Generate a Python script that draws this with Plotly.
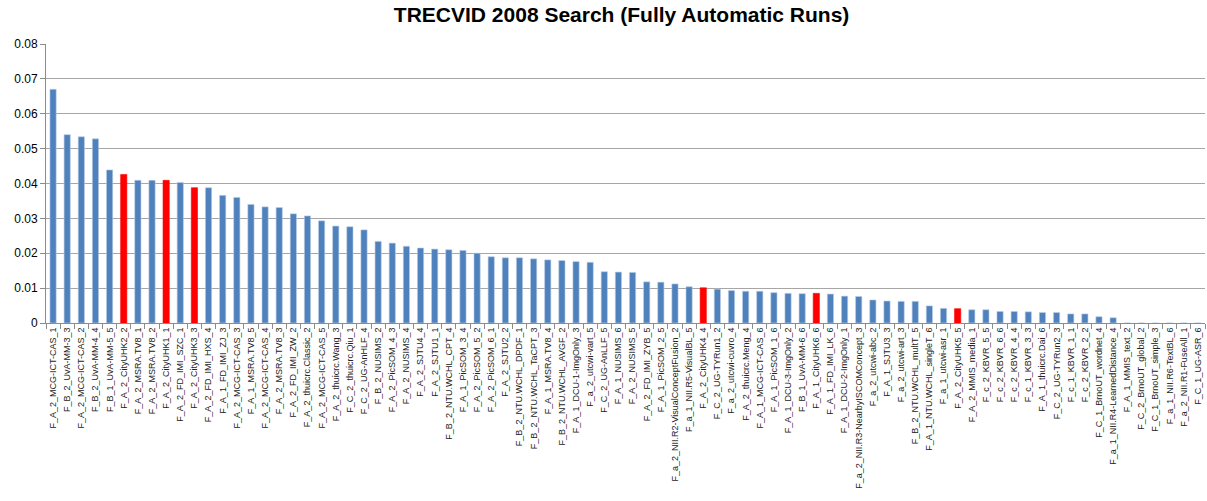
import plotly.graph_objects as go

runs = [
    "F_A_2_MCG-ICT-CAS_1", "F_B_2_UvA-MM-3_3", "F_A_2_MCG-ICT-CAS_2", "F_B_2_UvA-MM-4_4",
    "F_B_1_UvA-MM-5_5", "F_A_2_CityUHK2_2", "F_A_2_MSRA.TV8_1", "F_A_2_MSRA.TV8_2",
    "F_A_2_CityUHK1_1", "F_A_2_FD_IMI_SZC_1", "F_A_2_CityUHK3_3", "F_A_2_FD_IMI_HXS_4",
    "F_A_1_FD_IMI_ZJ_3", "F_A_2_MCG-ICT-CAS_3", "F_A_1_MSRA.TV8_5", "F_A_2_MCG-ICT-CAS_4",
    "F_A_2_MSRA.TV8_3", "F_A_2_FD_IMI_ZW_2", "F_A_2_thuicrc.Classic_2", "F_A_2_MCG-ICT-CAS_5",
    "F_A_2_thuicrc.Wang_3", "F_C_2_thuicrc.Qiu_1", "F_C_2_UG-AnHLF_4", "F_B_2_NUSIMS_2",
    "F_A_2_PicSOM_4_3", "F_A_2_NUSIMS_4", "F_A_2_SJTU4_4", "F_A_2_SJTU1_1",
    "F_B_2_NTU.WCHL_CPT_4", "F_A_1_PicSOM_3_4", "F_A_2_PicSOM_5_2", "F_A_2_PicSOM_6_1",
    "F_A_2_SJTU2_2", "F_B_2_NTU.WCHL_DPDF_1", "F_B_2_NTU.WCHL_TaCPT_3", "F_A_1_MSRA.TV8_4",
    "F_B_2_NTU.WCHL_AVGF_2", "F_A_1_DCU-1-ImgOnly_3", "F_a_2_utcwi-vart_5", "F_C_2_UG-AnLLF_5",
    "F_A_1_NUSIMS_6", "F_A_2_NUSIMS_5", "F_A_2_FD_IMI_ZYB_5", "F_A_1_PicSOM_2_5",
    "F_a_2_NII.R2-VisualConceptFusion_2", "F_a_1_NII.R5-VisualBL_5", "F_A_2_CityUHK4_4",
    "F_C_2_UG-TYRun1_2", "F_a_2_utcwi-cuvro_4", "F_A_2_thuicrc.Meng_4", "F_A_1_MCG-ICT-CAS_6",
    "F_A_1_PicSOM_1_6", "F_A_1_DCU-3-ImgOnly_2", "F_B_1_UvA-MM-6_6", "F_A_1_CityUHK6_6",
    "F_A_1_FD_IMI_LK_6", "F_A_1_DCU-2-ImgOnly_1", "F_a_2_NII.R3-NearbyISCOMConcept_3",
    "F_a_2_utcwi-abc_2", "F_A_1_SJTU3_3", "F_a_2_utcwi-art_3", "F_B_2_NTU.WCHL_multT_5",
    "F_A_1_NTU.WCHL_singleT_6", "F_a_1_utcwi-asr_1", "F_A_2_CityUHK5_5", "F_A_2_MMIS_media_1",
    "F_c_2_KBVR_5_5", "F_c_2_KBVR_6_6", "F_c_2_KBVR_4_4", "F_c_1_KBVR_3_3",
    "F_A_1_thuicrc.Dai_6", "F_C_2_UG-TYRun2_3", "F_c_1_KBVR_1_1", "F_c_2_KBVR_2_2",
    "F_C_1_BrnoUT_wordnet_4", "F_a_1_NII.R4-LearnedDistance_4", "F_A_1_MMIS_text_2",
    "F_C_2_BrnoUT_global_2", "F_C_1_BrnoUT_simple_3", "F_a_1_NII.R6-TextBL_6",
    "F_a_2_NII.R1-FuseAll_1", "F_C_1_UG-ASR_6",
]

infap = [
    0.0670, 0.0540, 0.0534, 0.0528, 0.0439, 0.0426, 0.0409, 0.0409,
    0.0409, 0.0403, 0.0388, 0.0388, 0.0366, 0.0360, 0.0340, 0.0333,
    0.0331, 0.0313, 0.0307, 0.0293, 0.0278, 0.0276, 0.0267, 0.0234,
    0.0229, 0.0220, 0.0215, 0.0212, 0.0210, 0.0208, 0.0200, 0.0190,
    0.0187, 0.0187, 0.0184, 0.0181, 0.0179, 0.0176, 0.0174, 0.0147,
    0.0146, 0.0145, 0.0118, 0.0117, 0.0112, 0.0104, 0.0101,
    0.0097, 0.0093, 0.0091, 0.0091, 0.0087, 0.0085, 0.0084, 0.0085,
    0.0083, 0.0077, 0.0076, 0.0066, 0.0063, 0.0062, 0.0062,
    0.0049, 0.0042, 0.0041, 0.0038, 0.0038, 0.0033, 0.0033, 0.0032,
    0.0030, 0.0030, 0.0026, 0.0026, 0.0018, 0.0015, 0.0,
    0.0, 0.0, 0.0, 0.0, 0.0,
]

highlighted = {"F_A_2_CityUHK2_2", "F_A_2_CityUHK1_1", "F_A_2_CityUHK3_3",
               "F_A_2_CityUHK4_4", "F_A_1_CityUHK6_6", "F_A_2_CityUHK5_5"}

colors = ["#FF0000" if r in highlighted else "#4F81BD" for r in runs]
edges = ["#FF0000" if r in highlighted else "#B9CDE5" for r in runs]

fig = go.Figure(go.Bar(
    x=runs, y=infap,
    marker=dict(color=colors, line=dict(color=edges, width=0.6)),
))

fig.update_layout(
    width=1207, height=501,
    margin=dict(l=46, r=2, t=44, b=178, autoexpand=False),
    paper_bgcolor="white", plot_bgcolor="white",
    bargap=0.56,
    showlegend=False,
    title=dict(text="<b>TRECVID 2008 Search (Fully Automatic Runs)</b>",
               x=0.515, xanchor="center", y=0.971, yanchor="middle",
               font=dict(family="Liberation Sans", size=21, color="black")),
    font=dict(family="Liberation Sans", color="black"),
)

fig.update_xaxes(
    type="category", tickangle=-90, tickfont=dict(size=9, color="#222"),
    showline=True, linecolor="#8C8C8C", linewidth=1,
    ticks="outside", tickson="boundaries", ticklen=5, tickcolor="#8C8C8C",
    showgrid=False, automargin=False, range=[-0.5, len(runs) - 0.5],
)
fig.update_yaxes(
    range=[0, 0.08], dtick=0.01, tickformat="",
    showline=True, linecolor="#8C8C8C", linewidth=1,
    showgrid=True, gridcolor="#A6A6A6", gridwidth=1,
    ticks="outside", ticklen=5, tickcolor="#8C8C8C",
    tickfont=dict(size=12, color="black"), zeroline=False, automargin=False,
)

fig.write_html(
    "out.html",
    config={"displayModeBar": False},
    post_script="document.body.style.margin='0';document.body.style.overflow='hidden';",
)
